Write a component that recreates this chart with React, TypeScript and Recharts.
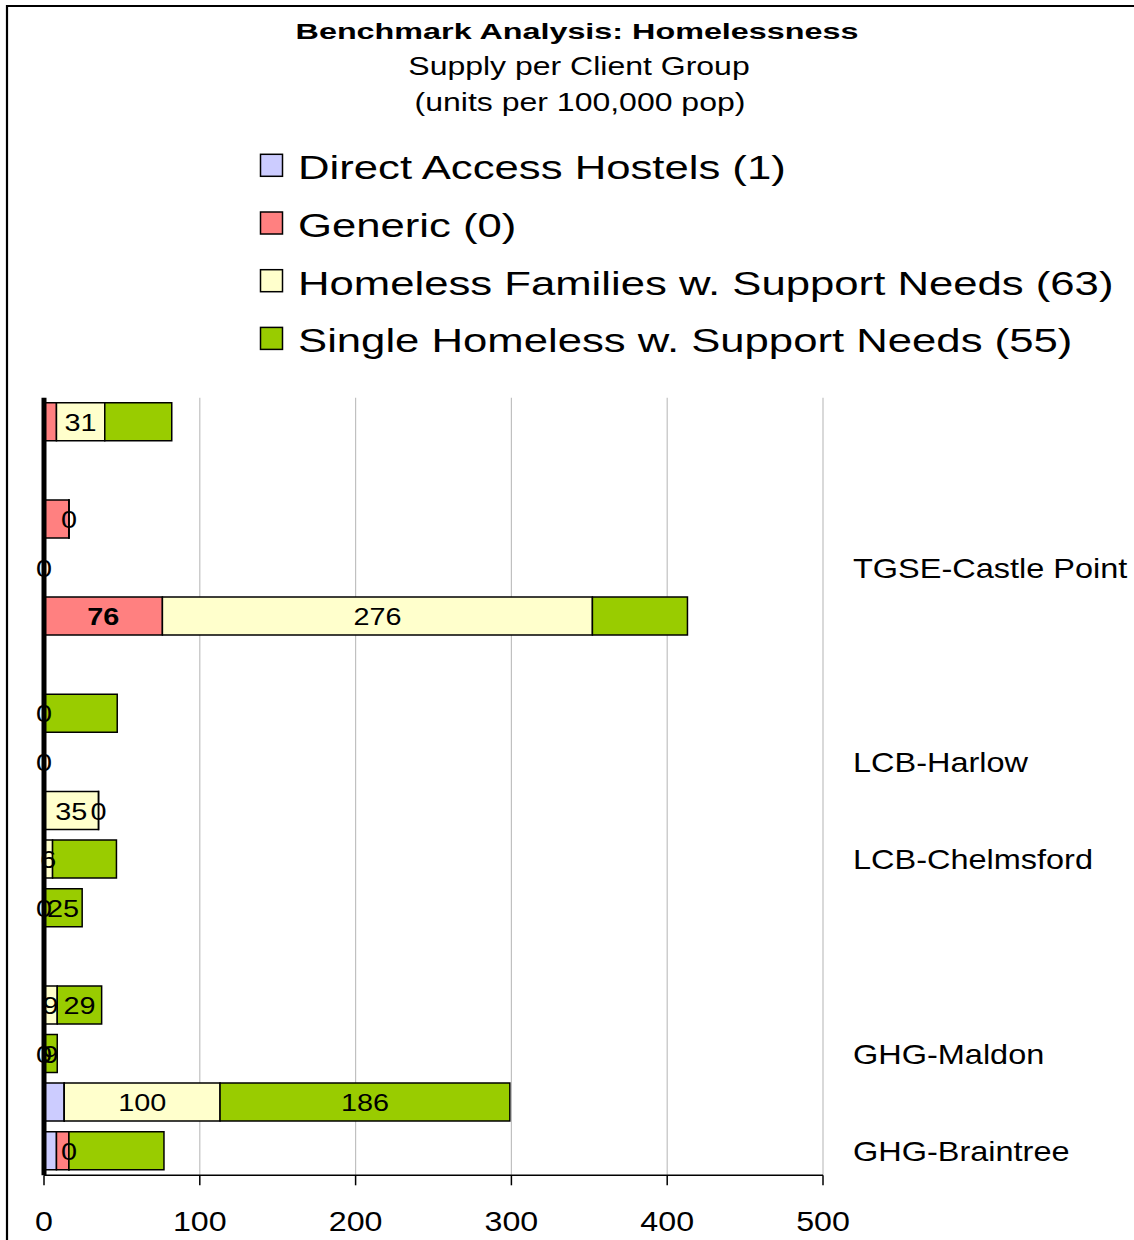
import { BarChart, Bar, XAxis, YAxis, CartesianGrid, ReferenceLine, LabelList } from "recharts";

const categoryLabels = [
	"", "", "", "TGSE-Castle Point", "", "", "", "LCB-Harlow",
	"", "LCB-Chelmsford", "", "", "", "GHG-Maldon", "", "GHG-Braintree",
];

const hostels = [0, null, 0, 0, 0, null, 0, 0, 0, 0, 0, null, 0, 0, 13, 8];
const generic = [8, null, 16, 0, 76, null, 0, 0, 0, 0, 0, null, 0, 0, 0, 8];
const families = [31, null, 0, 0, 276, null, 0, 0, 35, 5.5, 0, null, 8.5, 0, 100, 0];
const single = [43, null, 0, 0, 61, null, 47, 0, 0, 41, 24.5, null, 28.5, 8.5, 186, 61];

// which segments carry a data label in the original
const hostelLabels = [0, 0, 0, 1, 0, 0, 1, 1, 0, 0, 1, 0, 0, 1, 0, 0];
const genericLabels = [0, 0, 0, 0, 1, 0, 0, 0, 0, 0, 0, 0, 0, 0, 0, 0];
const familyLabels = [1, 0, 1, 0, 1, 0, 0, 0, 1, 1, 0, 0, 1, 0, 1, 1];
const singleLabels = [0, 0, 0, 0, 0, 0, 0, 0, 1, 0, 1, 0, 1, 1, 1, 0];

const xTicks = [0, 100, 200, 300, 400, 500];

const series = [
	{ key: "hostels", name: "Direct Access Hostels (1)", color: "#ccccff", values: hostels, labels: hostelLabels, bold: false },
	{ key: "generic", name: "Generic (0)", color: "#ff8080", values: generic, labels: genericLabels, bold: true },
	{ key: "families", name: "Homeless Families w. Support Needs (63)", color: "#ffffcc", values: families, labels: familyLabels, bold: false },
	{ key: "single", name: "Single Homeless w. Support Needs (55)", color: "#99cc00", values: single, labels: singleLabels, bold: false },
];

const chartData = categoryLabels.map((name, i) => {
	const row: Record<string, any> = { id: `r${i}`, name };
	series.forEach((s) => {
		row[s.key] = s.values[i];
		row[`${s.key}Label`] = s.labels[i] ? s.values[i] : null;
	});
	return row;
});

const FONT = "'Liberation Sans', Arial, sans-serif";

function makeLabel(bold: boolean) {
	return (props: any) => {
		const { value } = props;
		if (value == null || value === "") return null;
		const vb = props.viewBox ?? props;
		const cx = vb.x + vb.width / 2;
		const cy = vb.y + vb.height / 2;
		return (
			<text
				transform={`translate(${cx},${cy + 9}) scale(1.2,1)`}
				textAnchor="middle"
				fontFamily={FONT}
				fontSize={24}
				fontWeight={bold ? 700 : 400}
				fill="#000"
			>
				{Math.round(Number(value))}
			</text>
		);
	};
}

function ValueTick({ x, y, payload }: any) {
	return (
		<text
			transform={`translate(${x},${y + 46}) scale(1.15,1)`}
			textAnchor="middle"
			fontFamily={FONT}
			fontSize={28}
			fill="#000"
		>
			{payload.value}
		</text>
	);
}

function CategoryTick({ x, y, payload }: any) {
	const row = chartData.find((d) => d.id === payload.value);
	if (!row || !row.name) return null;
	return (
		<text
			transform={`translate(${x + 30},${y + 10}) scale(1.16,1)`}
			textAnchor="start"
			fontFamily={FONT}
			fontSize={28}
			fill="#000"
		>
			{row.name}
		</text>
	);
}

function Header() {
	return (
		<svg width={1134} height={1240} style={{ position: "absolute", left: 0, top: 0, overflow: "visible" }}>
			<path d="M7,1240 L7,6 L1134,6" fill="none" stroke="#000" strokeWidth={2.2} />
			<text transform="translate(577,39) scale(1.47,1)" textAnchor="middle" fontFamily={FONT} fontSize={22} fontWeight={700}>
				Benchmark Analysis: Homelessness
			</text>
			<text transform="translate(579,75) scale(1.28,1)" textAnchor="middle" fontFamily={FONT} fontSize={25}>
				Supply per Client Group
			</text>
			<text transform="translate(580,111) scale(1.28,1)" textAnchor="middle" fontFamily={FONT} fontSize={25}>
				(units per 100,000 pop)
			</text>
			{series.map((s, i) => {
				const base = 179.3 + i * 57.7;
				return (
					<g key={s.key}>
						<rect x={260.5} y={base - 25} width={22} height={22} fill={s.color} stroke="#000" strokeWidth={1.5} />
						<text transform={`translate(298,${base}) scale(1.285,1)`} fontFamily={FONT} fontSize={34}>
							{s.name}
						</text>
					</g>
				);
			})}
		</svg>
	);
}

export default function App() {
	return (
		<div
			style={{
				position: "absolute",
				left: 0,
				top: 0,
				width: 1134,
				height: 1240,
				overflow: "hidden",
				background: "#fff",
			}}
		>
			<div style={{ position: "absolute", left: 0, top: 0 }}>
				<BarChart
					layout="vertical"
					width={1134}
					height={1240}
					data={chartData}
					margin={{ top: 397.7, right: 0, bottom: 0, left: 44 }}
					barSize={38}
				>
					<CartesianGrid horizontal={false} stroke="#c0c0c0" strokeWidth={1.2} />
					<XAxis
						type="number"
						domain={[0, 500]}
						ticks={xTicks}
						height={64.7}
						tickSize={10}
						tickMargin={0}
						axisLine={{ stroke: "#000", strokeWidth: 1.5 }}
						tickLine={{ stroke: "#000", strokeWidth: 1.5 }}
						tick={<ValueTick />}
					/>
					<YAxis
						type="category"
						dataKey="id"
						orientation="right"
						width={311}
						interval={0}
						axisLine={false}
						tickLine={false}
						tickSize={0}
						tickMargin={0}
						tick={<CategoryTick />}
					/>
					{series.map((s) => (
						<Bar
							key={s.key}
							dataKey={s.key}
							name={s.name}
							stackId="a"
							fill={s.color}
							stroke="#000"
							strokeWidth={1.5}
							minPointSize={0.01}
							isAnimationActive={false}
						>
							<LabelList dataKey={`${s.key}Label`} content={makeLabel(s.bold)} />
						</Bar>
					))}
					<ReferenceLine x={0} stroke="#000" strokeWidth={5} />
				</BarChart>
			</div>
			<Header />
		</div>
	);
}
